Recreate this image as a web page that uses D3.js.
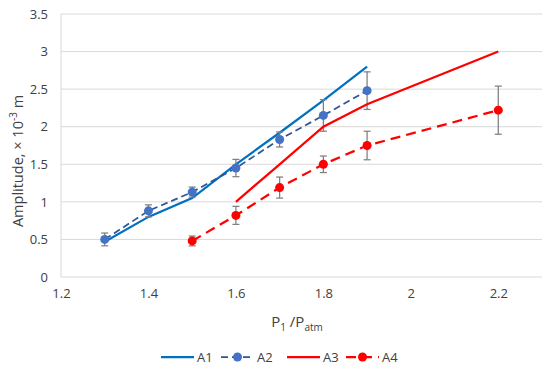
<!DOCTYPE html>
<html>
<head>
<meta charset="utf-8">
<script src="https://cdn.jsdelivr.net/npm/d3@7"></script>
<style>
  body { margin: 0; background: #fff; }
  svg { font-family: "Open Sans", "Noto Sans", sans-serif; }
</style>
</head>
<body>
<div id="chart"></div>
<script>
var xTicks = [1.2, 1.4, 1.6, 1.8, 2, 2.2];
var yTicks = [0, 0.5, 1, 1.5, 2, 2.5, 3, 3.5];

var xA1 = [1.3, 1.4, 1.5, 1.6, 1.7, 1.8, 1.9];
var yA1 = [0.47, 0.8, 1.05, 1.5, 1.92, 2.35, 2.8];

var xA2 = [1.3, 1.4, 1.5, 1.6, 1.7, 1.8, 1.9];
var yA2 = [0.5, 0.88, 1.13, 1.45, 1.83, 2.15, 2.48];
var eA2 = [0.085, 0.08, 0.067, 0.115, 0.1, 0.21, 0.25];

var xA3 = [1.6, 1.7, 1.8, 1.9, 2.2];
var yA3 = [1.0, 1.5, 2.0, 2.3, 3.0];

var xA4 = [1.5, 1.6, 1.7, 1.8, 1.9, 2.2];
var yA4 = [0.48, 0.82, 1.19, 1.5, 1.75, 2.22];
var eA4 = [0.065, 0.12, 0.14, 0.11, 0.19, 0.32];

var series = [
  { name: 'A1', xs: xA1, ys: yA1, color: '#0070C0', width: 2.25, dash: null, marker: false },
  { name: 'A2', xs: xA2, ys: yA2, errs: eA2, color: '#2F5597', markColor: '#4472C4', width: 1.75, dash: '7,4', marker: true },
  { name: 'A3', xs: xA3, ys: yA3, color: '#FF0000', width: 2.25, dash: null, marker: false },
  { name: 'A4', xs: xA4, ys: yA4, errs: eA4, color: '#FF0000', markColor: '#FF0000', width: 2.25, dash: '10,6', marker: true }
];

var width = 550, height = 368;
var svg = d3.select('#chart').append('svg').attr('width', width).attr('height', height);

var x = d3.scaleLinear().domain([1.2, 2.3]).range([61, 542]);
var y = d3.scaleLinear().domain([0, 3.5]).range([277, 14]);

// grid
svg.append('g').selectAll('line').data(yTicks).enter().append('line')
  .attr('x1', x(1.2)).attr('x2', x(2.3))
  .attr('y1', function (d) { return y(d); }).attr('y2', function (d) { return y(d); })
  .attr('stroke', '#d9d9d9').attr('stroke-width', 1);

svg.append('line')
  .attr('x1', x(1.2)).attr('x2', x(1.2)).attr('y1', y(0)).attr('y2', y(3.5))
  .attr('stroke', '#d9d9d9').attr('stroke-width', 1);

// axes
var yAxis = svg.append('g').attr('transform', 'translate(' + x(1.2) + ',0)')
  .call(d3.axisLeft(y).tickValues(yTicks).tickSize(0).tickPadding(13)
    .tickFormat(function (d) { return String(d); }));
yAxis.select('.domain').remove();
yAxis.selectAll('text').attr('font-size', 13).attr('fill', '#404040')
  .style('font-family', '"Open Sans", sans-serif');

var xAxis = svg.append('g').attr('transform', 'translate(0,' + y(0) + ')')
  .call(d3.axisBottom(x).tickValues(xTicks).tickSize(0).tickPadding(12)
    .tickFormat(function (d) { return String(d); }));
xAxis.select('.domain').remove();
xAxis.selectAll('text').attr('font-size', 13).attr('fill', '#404040')
  .style('font-family', '"Open Sans", sans-serif');

// lines + error bars + markers
var line = d3.line().x(function (d) { return x(d[0]); }).y(function (d) { return y(d[1]); });

series.forEach(function (s) {
  var pts = s.xs.map(function (v, i) { return [v, s.ys[i], s.errs ? s.errs[i] : 0]; });
  var g = svg.append('g');
  g.append('path').datum(pts).attr('d', line)
    .attr('fill', 'none').attr('stroke', s.color).attr('stroke-width', s.width)
    .attr('stroke-dasharray', s.dash);
  if (s.errs) {
    var eb = g.selectAll('g.err').data(pts).enter().append('g').attr('class', 'err');
    eb.append('line')
      .attr('x1', function (d) { return x(d[0]); }).attr('x2', function (d) { return x(d[0]); })
      .attr('y1', function (d) { return y(d[1] - d[2]); }).attr('y2', function (d) { return y(d[1] + d[2]); })
      .attr('stroke', '#7f7f7f').attr('stroke-width', 1.25);
    [-1, 1].forEach(function (sg) {
      eb.append('line')
        .attr('x1', function (d) { return x(d[0]) - 3.5; }).attr('x2', function (d) { return x(d[0]) + 3.5; })
        .attr('y1', function (d) { return y(d[1] + sg * d[2]); }).attr('y2', function (d) { return y(d[1] + sg * d[2]); })
        .attr('stroke', '#7f7f7f').attr('stroke-width', 1.25);
    });
  }
  if (s.marker) {
    g.selectAll('circle').data(pts).enter().append('circle')
      .attr('cx', function (d) { return x(d[0]); }).attr('cy', function (d) { return y(d[1]); })
      .attr('r', 4.5).attr('fill', s.markColor);
  }
});

// axis titles
var yt = svg.append('text')
  .attr('transform', 'translate(23,161) rotate(-90)')
  .attr('text-anchor', 'middle').attr('font-size', 14.5).attr('fill', '#404040');
yt.append('tspan').text('Amplitude, × 10');
yt.append('tspan').attr('dy', -6).attr('font-size', 10).text('-3');
yt.append('tspan').attr('dy', 6).text(' m');

var xt = svg.append('text')
  .attr('x', 297).attr('y', 327)
  .attr('text-anchor', 'middle').attr('font-size', 15).attr('fill', '#404040');
xt.append('tspan').text('P');
xt.append('tspan').attr('dy', 4).attr('font-size', 10).text('1');
xt.append('tspan').attr('dy', -4).text(' /P');
xt.append('tspan').attr('dy', 4).attr('font-size', 10).text('atm');

// legend
var legendX = [161, 221, 287, 346];
var legend = svg.append('g');
series.forEach(function (s, i) {
  var lx = legendX[i], ly = 357, len = 33;
  legend.append('line').attr('x1', lx).attr('x2', lx + len).attr('y1', ly).attr('y2', ly)
    .attr('stroke', s.color).attr('stroke-width', s.width).attr('stroke-dasharray', s.dash);
  if (s.marker) {
    legend.append('circle').attr('cx', lx + len / 2).attr('cy', ly).attr('r', 4.5).attr('fill', s.markColor);
  }
  legend.append('text').attr('x', lx + len + 3).attr('y', ly + 4.5)
    .attr('font-size', 13).attr('fill', '#404040').text(s.name);
});
</script>
</body>
</html>
